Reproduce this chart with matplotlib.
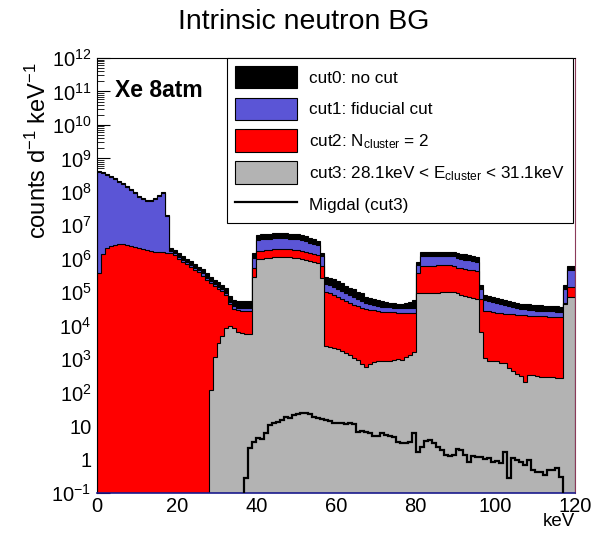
import numpy as np
import matplotlib
matplotlib.use("Agg")
import matplotlib.pyplot as plt
from matplotlib.patches import Patch
from matplotlib.lines import Line2D

plt.rcParams["font.family"] = ["Liberation Sans", "DejaVu Sans"]
plt.rcParams["mathtext.fontset"] = "custom"
plt.rcParams["mathtext.rm"] = "Liberation Sans"
plt.rcParams["mathtext.it"] = "Liberation Sans:italic"
plt.rcParams["mathtext.bf"] = "Liberation Sans:bold"

# 1 keV bins, 0-120 keV. Bin contents are log10(counts / day / keV).
cut0_log = [
    8.63, 8.58, 8.53, 8.46, 8.40, 8.33, 8.26, 8.18, 8.09, 7.99,
    7.89, 7.81, 7.76, 7.76, 7.81, 7.91, 7.99, 7.30, 6.33, 6.26,
    6.17, 6.08, 6.00, 5.92, 5.84, 5.76, 5.68, 5.56, 5.46, 5.38,
    5.30, 5.22, 5.12, 4.90, 4.78, 4.74, 4.74, 4.73, 4.73, 6.16,
    6.71, 6.73, 6.74, 6.75, 6.76, 6.76, 6.77, 6.76, 6.75, 6.74,
    6.73, 6.70, 6.67, 6.63, 6.59, 6.54, 6.17, 5.46, 5.43, 5.40,
    5.34, 5.27, 5.20, 5.14, 5.10, 5.02, 4.97, 4.87, 4.84, 4.80,
    4.77, 4.74, 4.72, 4.69, 4.67, 4.66, 4.66, 4.68, 4.70, 4.76,
    5.91, 6.19, 6.19, 6.20, 6.20, 6.21, 6.21, 6.21, 6.21, 6.20,
    6.16, 6.15, 6.13, 6.10, 6.07, 6.04, 5.22, 4.92, 4.88, 4.85,
    4.82, 4.79, 4.76, 4.73, 4.70, 4.67, 4.66, 4.65, 4.64, 4.63,
    4.62, 4.61, 4.60, 4.59, 4.58, 4.58, 4.57, 5.22, 5.79, 5.79,
]
cut1_log = [
    8.60, 8.55, 8.50, 8.43, 8.37, 8.30, 8.23, 8.15, 8.06, 7.96,
    7.86, 7.78, 7.73, 7.73, 7.78, 7.88, 7.96, 7.27, 6.24, 6.16,
    6.06, 5.97, 5.89, 5.81, 5.73, 5.65, 5.56, 5.44, 5.34, 5.26,
    5.17, 5.09, 4.98, 4.72, 4.58, 4.53, 4.52, 4.52, 4.52, 6.02,
    6.56, 6.58, 6.59, 6.60, 6.61, 6.61, 6.61, 6.61, 6.60, 6.59,
    6.58, 6.55, 6.52, 6.48, 6.44, 6.41, 6.07, 5.24, 5.21, 5.17,
    5.11, 5.04, 4.97, 4.91, 4.86, 4.79, 4.73, 4.67, 4.64, 4.61,
    4.59, 4.57, 4.56, 4.55, 4.54, 4.53, 4.52, 4.52, 4.52, 4.53,
    5.81, 6.07, 6.07, 6.08, 6.08, 6.08, 6.08, 6.08, 6.08, 6.07,
    6.01, 5.99, 5.97, 5.95, 5.93, 5.91, 5.09, 4.77, 4.73, 4.70,
    4.67, 4.64, 4.61, 4.58, 4.55, 4.52, 4.50, 4.49, 4.48, 4.47,
    4.45, 4.44, 4.44, 4.43, 4.43, 4.42, 4.42, 5.09, 5.66, 5.66,
]
cut2_log = [
    5.57, 6.14, 6.31, 6.38, 6.41, 6.43, 6.43, 6.40, 6.37, 6.34,
    6.31, 6.29, 6.26, 6.23, 6.21, 6.20, 6.19, 6.18, 6.16, 6.10,
    6.00, 5.91, 5.83, 5.75, 5.67, 5.59, 5.50, 5.38, 5.28, 5.20,
    5.11, 5.03, 4.92, 4.65, 4.50, 4.46, 4.45, 4.45, 4.45, 5.72,
    6.22, 6.24, 6.26, 6.27, 6.28, 6.28, 6.29, 6.28, 6.28, 6.27,
    6.26, 6.24, 6.21, 6.18, 6.14, 6.11, 5.77, 5.02, 4.98, 4.93,
    4.87, 4.80, 4.74, 4.68, 4.63, 4.58, 4.54, 4.50, 4.48, 4.46,
    4.44, 4.42, 4.41, 4.40, 4.40, 4.39, 4.38, 4.38, 4.37, 4.37,
    5.57, 5.78, 5.78, 5.79, 5.79, 5.80, 5.80, 5.80, 5.80, 5.78,
    5.73, 5.71, 5.69, 5.67, 5.65, 5.63, 4.80, 4.45, 4.43, 4.41,
    4.39, 4.37, 4.36, 4.35, 4.34, 4.32, 4.31, 4.31, 4.30, 4.30,
    4.29, 4.28, 4.28, 4.27, 4.27, 4.26, 4.25, 4.69, 5.17, 5.17,
]
# cut3 is empty below 28 keV
cut3_start = 28
cut3_log = [
    2.08, 3.06, 3.48, 3.69, 3.93, 3.99, 3.93, 3.81, 3.78, 3.75,
    3.75, 5.46,
    5.98, 6.00, 6.02, 6.03, 6.04, 6.04, 6.05, 6.04, 6.04, 6.03,
    6.01, 5.99, 5.96, 5.93, 5.89, 5.86, 5.42,
    3.40, 3.37, 3.32, 3.30, 3.24, 3.17, 3.12, 3.02, 2.97, 2.87,
    2.77, 2.87, 2.91, 2.93, 2.93, 2.95, 2.93, 2.97, 3.00, 2.97,
    3.07, 3.12, 3.22, 4.97,
    4.97, 4.98, 4.98, 4.99, 4.99, 5.00, 5.01, 5.02, 5.01, 4.97,
    4.93, 4.88, 4.86, 4.84, 4.81, 3.82,
    3.03, 2.95, 2.93, 2.93, 2.90, 2.88, 2.73, 2.65, 2.55, 2.50,
    2.33, 2.53, 2.53, 2.50, 2.48, 2.48, 2.46, 2.46, 2.44, 2.44,
    4.66, 4.86, 4.86,
]
# Migdal events passing cut3, non-zero from 37 to 117 keV
migdal_start = 37
migdal_log = [
    -0.56, 0.34, 0.53, 0.65, 0.60, 0.78, 1.03, 1.08, 1.13, 1.18,
    1.26, 1.23, 1.33, 1.36, 1.38, 1.40, 1.36, 1.26, 1.23, 1.20,
    1.18, 1.16, 1.10, 1.08, 1.10, 1.06, 1.08, 1.06, 0.83, 0.86,
    0.83, 0.78, 0.70, 0.70, 0.80, 0.73, 0.70, 0.68, 0.53, 0.50,
    0.50, 0.53, 0.78, 0.23, 0.38, 0.55, 0.58, 0.49, 0.38, 0.28,
    0.14, 0.11, 0.14, 0.31, 0.28, 0.14, -0.06, 0.11, 0.09, 0.07,
    0.01, 0.04, -0.06, -0.03, -0.09, 0.23, -0.56, 0.04, -0.01, -0.06,
    -0.16, -0.01, -0.31, -0.36, -0.36, -0.46, -0.31, -0.31, -0.26, -0.51,
]

labels = [
    "cut0: no cut",
    "cut1: fiducial cut",
    r"cut2: N$_{\mathregular{cluster}}$ = 2",
    r"cut3: 28.1keV < E$_{\mathregular{cluster}}$ < 31.1keV",
    "Migdal (cut3)",
]
colors = ["#000000", "#5b55d6", "#ff0000", "#b3b3b3"]

YMIN, YMAX = 0.1, 1e12
BASE = 1e-3

fig = plt.figure(figsize=(5.92, 5.38), dpi=100)
ax = fig.add_axes([97 / 592, 45 / 538, 478 / 592, 435 / 538])


def draw_filled(vals_log, start, color):
    vals = 10.0 ** np.asarray(vals_log)
    edges = np.arange(start, start + len(vals) + 1)
    ax.stairs(vals, edges, baseline=BASE, fill=True,
              facecolor=color, edgecolor="black", linewidth=0.8)


for vals, start, col in [(cut0_log, 0, colors[0]), (cut1_log, 0, colors[1]),
                         (cut2_log, 0, colors[2]), (cut3_log, cut3_start, colors[3])]:
    draw_filled(vals, start, col)

mig = 10.0 ** np.asarray(migdal_log)
ax.stairs(mig, np.arange(migdal_start, migdal_start + len(mig) + 1),
          baseline=BASE, fill=False, edgecolor="black", linewidth=1.6, zorder=3)

ax.set_yscale("log")
ax.set_xlim(0, 120)
ax.set_ylim(YMIN, YMAX)
ax.set_axisbelow(True)

yt = [10.0 ** k for k in range(-1, 13)]
ytl = [r"$10^{-1}$", "1", "10"] + [rf"$10^{{{k}}}$" for k in range(2, 13)]
ax.set_yticks(yt)
ax.set_yticklabels(ytl)
ax.yaxis.set_minor_locator(matplotlib.ticker.LogLocator(base=10, subs=np.arange(2, 10), numticks=30))
ax.yaxis.set_minor_formatter(matplotlib.ticker.NullFormatter())
ax.set_xticks(np.arange(0, 121, 20))
ax.tick_params(axis="both", which="both", direction="in", labelsize=14.5)
ax.tick_params(axis="y", which="major", length=9)
ax.tick_params(axis="y", which="minor", length=5)
ax.tick_params(axis="x", which="both", length=0, pad=3)
ax.tick_params(axis="y", pad=4)

for side in ["left", "top"]:
    ax.spines[side].set_linewidth(0.8)
ax.spines["bottom"].set_color("#1a1a8c")
ax.spines["bottom"].set_linewidth(1.2)
ax.spines["right"].set_color("#8b3a5a")
ax.spines["right"].set_linewidth(0.8)

ax.set_ylabel(r"counts d$^{-1}$ keV$^{-1}$", fontsize=17)
ax.yaxis.set_label_coords(-0.097, 0.99, transform=ax.transAxes)
ax.yaxis.label.set_horizontalalignment("right")
ax.set_xlabel("keV", fontsize=13.5)
ax.xaxis.set_label_coords(1.0, -0.047)
ax.xaxis.label.set_horizontalalignment("right")

fig.text(304 / 592, 1 - 22 / 538, "Intrinsic neutron BG", ha="center", va="center", fontsize=20.5)
ax.text(0.038, 0.926, "Xe 8atm", transform=ax.transAxes, fontsize=16.5,
        fontweight="bold", ha="left", va="center")

handles = [Patch(facecolor=c, edgecolor="black", linewidth=0.8) for c in colors]
handles.append(Line2D([], [], color="black", linewidth=1.6))
leg = ax.legend(handles, labels, loc="upper left",
                bbox_to_anchor=(227 / 592, 1 - 58 / 538), bbox_transform=fig.transFigure,
                fontsize=12.3, frameon=True, fancybox=False, framealpha=1,
                edgecolor="black", borderpad=0.45, handlelength=3.65, handleheight=1.65,
                labelspacing=0.55, handletextpad=0.7, borderaxespad=0)
leg.get_frame().set_linewidth(0.8)

fig.savefig("out.png", dpi=100)
